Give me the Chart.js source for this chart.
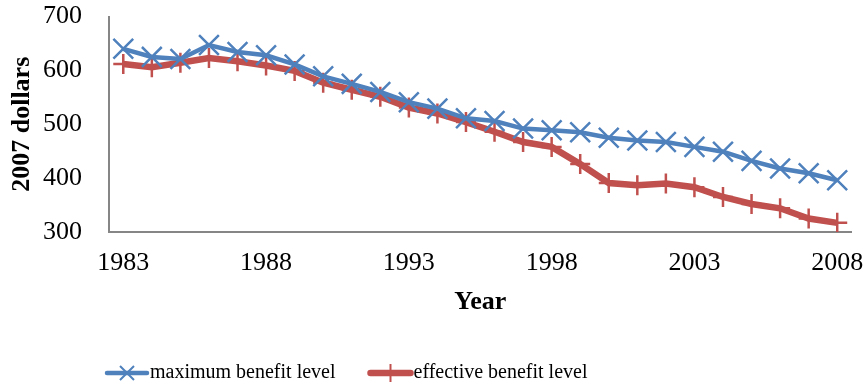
<!DOCTYPE html>
<html>
<head>
<meta charset="utf-8">
<script src="https://cdn.jsdelivr.net/npm/chart.js@4"></script>
<style>
  html, body { margin: 0; padding: 0; background: #fff; }
  #wrap { width: 868px; height: 389px; }
</style>
</head>
<body>
<div id="wrap"><canvas id="chart"></canvas></div>
<script>
// Data
const years = ['1983', '1984', '1985', '1986', '1987', '1988', '1989', '1990', '1991',
    '1992', '1993', '1994', '1995', '1996', '1997', '1998', '1999', '2000', '2001',
    '2002', '2003', '2004', '2005', '2006', '2007', '2008'];
const maxBenefit = [640, 625, 621, 647, 634, 628, 611, 589, 575, 560, 541, 529, 511,
    506, 492, 489, 485, 475, 470, 467, 458, 449, 432, 418, 409, 396];
const effBenefit = [612, 606, 614, 623, 617, 609, 599, 577, 564, 551, 531, 520, 504,
    486, 467, 458, 426, 391, 387, 390, 383, 365, 352, 344, 325, 317];
const yTicks = [300, 400, 500, 600, 700];

const BLUE = '#4F81BD';
const RED = '#C0504D';
const FONT = "'Liberation Serif', 'Times New Roman', serif";

// Excel-style legend: line sample with marker, then text, left part of the bottom strip
const bottomLegend = {
    id: 'bottomLegend',
    afterDraw(chart) {
        const ctx = chart.ctx;
        const y = 373;
        let x = 107;
        ctx.save();
        ctx.font = '20px ' + FONT;
        ctx.textBaseline = 'middle';
        chart.data.datasets.forEach(ds => {
            ctx.strokeStyle = ds.borderColor;
            ctx.lineCap = 'round';
            ctx.lineWidth = ds.borderWidth;
            ctx.beginPath(); ctx.moveTo(x, y); ctx.lineTo(x + 40, y); ctx.stroke();
            ctx.lineCap = 'butt';
            ctx.lineWidth = 2;
            const cx = x + 20;
            ctx.beginPath();
            if (ds.pointStyle === 'crossRot') {
                ctx.moveTo(cx - 7, y - 7); ctx.lineTo(cx + 7, y + 7);
                ctx.moveTo(cx + 7, y - 7); ctx.lineTo(cx - 7, y + 7);
            } else {
                ctx.moveTo(cx, y - 9); ctx.lineTo(cx, y + 9);
            }
            ctx.stroke();
            ctx.fillStyle = '#000';
            ctx.fillText(ds.label, x + 43, y);
            x += 43 + ctx.measureText(ds.label).width + 35;
        });
        ctx.restore();
    }
};

new Chart(document.getElementById('chart'), {
    type: 'line',
    data: {
        labels: years,
        datasets: [
            {
                label: 'maximum benefit level',
                data: maxBenefit,
                borderColor: BLUE,
                backgroundColor: BLUE,
                borderWidth: 4.5,
                pointStyle: 'crossRot',
                pointRadius: 14,
                pointBorderWidth: 2.5,
                pointBorderColor: BLUE,
                tension: 0
            },
            {
                label: 'effective benefit level',
                data: effBenefit,
                borderColor: RED,
                backgroundColor: RED,
                borderWidth: 6.5,
                pointStyle: 'cross',
                pointRadius: 10,
                pointBorderWidth: 2.5,
                pointBorderColor: RED,
                tension: 0
            }
        ]
    },
    plugins: [bottomLegend],
    options: {
        responsive: true,
        maintainAspectRatio: false,
        animation: false,
        layout: { padding: { left: 7, right: 15, top: 16, bottom: 69 } },
        plugins: {
            tooltip: { enabled: false },
            legend: { display: false }
        },
        scales: {
            x: {
                type: 'category',
                offset: true,
                afterFit: s => {
                    s.height = 88;
                    s.paddingLeft = 0;
                    s.paddingRight = 0;
                },
                grid: { display: false, drawTicks: false },
                border: { display: true, color: '#868686', width: 2 },
                ticks: {
                    autoSkip: false,
                    maxRotation: 0,
                    padding: 16,
                    color: '#000',
                    font: { family: FONT, size: 26 },
                    callback: (v, i) => (i % 5 === 0 ? years[i] : '')
                },
                title: {
                    display: true,
                    text: 'Year',
                    color: '#000',
                    font: { family: FONT, size: 26, weight: 'bold' },
                    padding: { top: 0, bottom: 2 }
                }
            },
            y: {
                min: 300,
                max: 700,
                afterBuildTicks: s => { s.ticks = yTicks.map(v => ({ value: v })); },
                afterFit: s => {
                    s.width = 102;
                    s.paddingTop = 0;
                    s.paddingBottom = 0;
                },
                grid: { display: false, drawTicks: false },
                border: { display: true, color: '#868686', width: 2 },
                ticks: {
                    padding: 27,
                    color: '#000',
                    font: { family: FONT, size: 26 }
                },
                title: {
                    display: true,
                    text: '2007 dollars',
                    color: '#000',
                    font: { family: FONT, size: 26, weight: 'bold' },
                    padding: 0
                }
            }
        }
    }
});
</script>
</body>
</html>
